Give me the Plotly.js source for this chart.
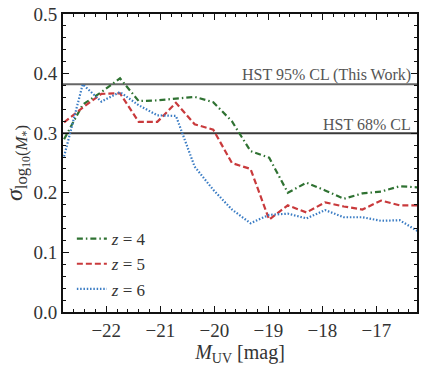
<!DOCTYPE html>
<html>
<head>
<meta charset="utf-8">
<script src="https://cdn.plot.ly/plotly-3.0.1.min.js"></script>
<style>html,body{margin:0;padding:0;background:#fff}</style>
</head>
<body>
<div id="chart" style="width:424px;height:370px"></div>
<script>
const muv = [-22.78, -22.435, -22.09, -21.745, -21.40, -21.055, -20.71, -20.365, -20.02, -19.675,
             -19.33, -18.985, -18.64, -18.295, -17.95, -17.605, -17.26, -16.915, -16.57, -16.225];
const sigmaZ4 = [0.290, 0.348, 0.369, 0.392, 0.354, 0.355, 0.358, 0.361, 0.352, 0.320,
                 0.270, 0.259, 0.200, 0.217, 0.204, 0.190, 0.199, 0.202, 0.211, 0.209];
const sigmaZ5 = [0.318, 0.343, 0.366, 0.367, 0.319, 0.319, 0.351, 0.315, 0.306, 0.250,
                 0.240, 0.155, 0.179, 0.167, 0.184, 0.177, 0.172, 0.187, 0.179, 0.179];
const sigmaZ6 = [0.261, 0.382, 0.353, 0.369, 0.347, 0.330, 0.329, 0.244, 0.205, 0.172,
                 0.149, 0.163, 0.165, 0.157, 0.171, 0.159, 0.159, 0.153, 0.154, 0.135];
const seriesNames = ['<i>z</i> = 4', '<i>z</i> = 5', '<i>z</i> = 6'];
const hstLevels = [0.382, 0.300];
const hstLabels = ['HST 95% CL (This Work)', 'HST 68% CL'];
const xTickVals = [-22, -21, -20, -19, -18, -17];
const xTickText = ['\u221222', '\u221221', '\u221220', '\u221219', '\u221218', '\u221217'];
const yTickVals = [0, 0.1, 0.2, 0.3, 0.4, 0.5];
const yTickText = ['0.0', '0.1', '0.2', '0.3', '0.4', '0.5'];

const FONT = '"Liberation Serif", "Times New Roman", serif';
const styles = [
  {color: '#2f7232', dash: '6px,3px,1.5px,3px'},
  {color: '#c93a3c', dash: '6px,3px'},
  {color: '#3a7cc4', dash: '1.5px,1.8px'}
];
const ys = [sigmaZ4, sigmaZ5, sigmaZ6];
const traces = ys.map((y, i) => ({
  x: muv, y: y, type: 'scatter', mode: 'lines', name: seriesNames[i],
  line: {color: styles[i].color, width: 2.2, dash: styles[i].dash}
}));

const shapes = hstLevels.map((v, i) => ({
  type: 'line', xref: 'paper', x0: 0, x1: 1, yref: 'y', y0: v, y1: v,
  line: {color: i === 0 ? '#666' : '#3a3a3a', width: 2}, layer: 'below'
}));
const annotations = hstLevels.map((v, i) => ({
  xref: 'paper', x: 0.99, yref: 'y', y: v, xanchor: 'right', yanchor: 'bottom',
  text: hstLabels[i], showarrow: false, yshift: -2,
  font: {family: FONT, size: 16, color: '#555'}
}));

const axisCommon = {
  showgrid: false, zeroline: false, showline: true, linecolor: '#111', linewidth: 2,
  mirror: 'ticks', ticks: 'inside', ticklen: 6, tickwidth: 1, tickcolor: '#111',
  tickfont: {family: FONT, size: 19, color: '#333'}
};
const layout = {
  width: 424, height: 370,
  margin: {l: 63, r: 7, t: 14, b: 58},
  paper_bgcolor: '#fff', plot_bgcolor: '#fff',
  showlegend: true,
  legend: {x: 0.025, y: 0.305, xanchor: 'left', yanchor: 'top', bgcolor: 'rgba(0,0,0,0)',
           font: {family: FONT, size: 17, color: '#333'}, itemwidth: 30, tracegroupgap: 0},
  xaxis: Object.assign({}, axisCommon, {
    range: [-22.8, -16.25], tickvals: xTickVals, ticktext: xTickText,
    minor: {dtick: 0.2, ticks: 'inside', ticklen: 3, tickcolor: '#111'},
    title: {text: '<i>M</i><sub>UV</sub> [mag]', font: {family: FONT, size: 20, color: '#333'}, standoff: 4}
  }),
  yaxis: Object.assign({}, axisCommon, {
    range: [0, 0.5], tickvals: yTickVals, ticktext: yTickText,
    minor: {dtick: 0.02, ticks: 'inside', ticklen: 3, tickcolor: '#111'},
    title: {text: '<i>σ</i><sub>log<sub>10</sub>(<i>M</i><sub>*</sub>)</sub>', font: {family: FONT, size: 24, color: '#333'}, standoff: 4}
  }),
  shapes: shapes,
  annotations: annotations
};
Plotly.newPlot('chart', traces, layout, {displayModeBar: false, staticPlot: true});
</script>
</body>
</html>
